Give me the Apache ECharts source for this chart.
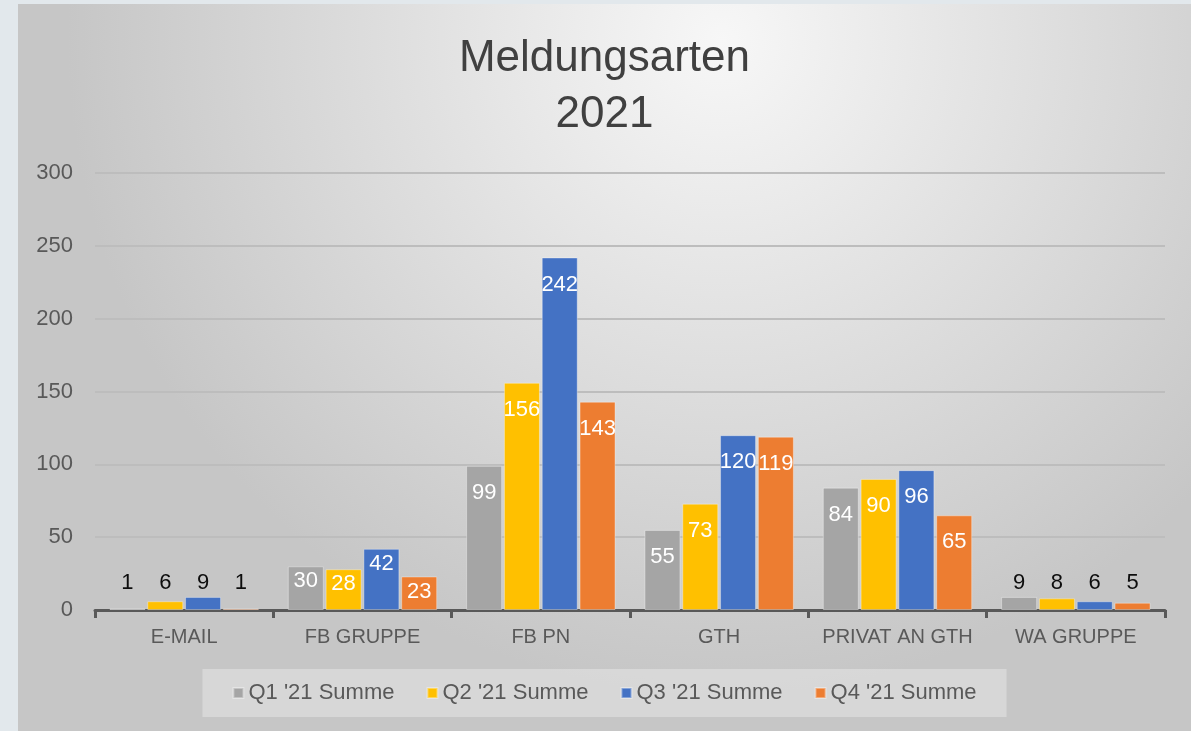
<!DOCTYPE html>
<html>
<head>
<meta charset="utf-8">
<script src="https://cdn.jsdelivr.net/npm/echarts@6/dist/echarts.min.js"></script>
<style>
  html, body { margin: 0; padding: 0; background: #e2e8ec; }
  #chart { position: absolute; left: 18px; top: 4px; width: 1173px; height: 727px; }
</style>
</head>
<body>
<div id="chart"></div>
<script>
// Kategorien und Werte pro Quartal
const categories = ['E-MAIL', 'FB GRUPPE', 'FB PN', 'GTH', 'PRIVAT AN GTH', 'WA GRUPPE']
const seriesNames = ["Q1 '21 Summe", "Q2 '21 Summe", "Q3 '21 Summe", "Q4 '21 Summe"]
const q1 = [1, 30, 99, 55, 84, 9]
const q2 = [6, 28, 156, 73, 90, 8]
const q3 = [9, 42, 242, 120, 96, 6]
const q4 = [1, 23, 143, 119, 65, 5]
const colors = ['#a5a5a5', '#ffc000', '#4472c4', '#ed7d31']
const yTicks = [0, 50, 100, 150, 200, 250, 300]

const font = "'Liberation Sans', Arial, sans-serif"

// kleine Balken: Beschriftung schwarz über dem Balken, sonst weiß innen oben
function toData(values) {
  return values.map(v => {
    if (v < 15) {
      return {
        value: v,
        label: { position: 'insideBottom', distance: 16, color: '#0d0d0d' }
      }
    }
    if (v < 50) {
      return { value: v, label: { distance: 4 } }
    }
    return v
  })
}

const allValues = [q1, q2, q3, q4]
const series = allValues.map((vals, i) => ({
  name: seriesNames[i],
  type: 'bar',
  barWidth: 36,
  barGap: '5%',
  data: toData(vals),
  itemStyle: { color: colors[i], borderColor: 'rgba(255,255,255,0.35)', borderWidth: 1 },
  label: {
    show: true,
    position: 'insideTop',
    distance: 16,
    color: '#ffffff',
    fontSize: 22,
    fontFamily: font
  }
}))

const chart = echarts.init(document.getElementById('chart'))
chart.setOption({
  animation: false,
  backgroundColor: {
    type: 'radial',
    x: 0.6, y: 0.05, r: 0.9,
    colorStops: [
      { offset: 0, color: '#f7f7f7' },
      { offset: 1, color: '#c6c6c6' }
    ]
  },
  title: {
    text: 'Meldungsarten\n2021',
    left: 'center',
    top: 27,
    padding: 0,
    textStyle: {
      fontSize: 44,
      fontWeight: 'normal',
      lineHeight: 56,
      color: '#404040',
      fontFamily: font
    }
  },
  legend: {
    bottom: 14,
    left: 'center',
    itemWidth: 10,
    itemHeight: 10,
    itemGap: 32,
    icon: 'rect',
    padding: [13, 30],
    backgroundColor: 'rgba(255,255,255,0.3)',
    textStyle: { fontSize: 22, color: '#595959', fontFamily: font },
    data: seriesNames
  },
  grid: { left: 77, right: 26, top: 169, bottom: 121 },
  xAxis: {
    type: 'category',
    data: categories,
    axisLine: { lineStyle: { color: '#595959', width: 3 } },
    axisTick: { show: true, interval: 0, alignWithLabel: false, length: 8, lineStyle: { color: '#595959', width: 3 } },
    axisLabel: { interval: 0, fontSize: 20, color: '#595959', margin: 17, fontFamily: font }
  },
  yAxis: {
    type: 'value',
    min: yTicks[0],
    max: yTicks[yTicks.length - 1],
    interval: 50,
    axisLine: { show: false },
    axisTick: { show: false },
    axisLabel: { fontSize: 22, color: '#595959', margin: 22, fontFamily: font },
    splitLine: { lineStyle: { color: '#bdbdbd', width: 2 } }
  },
  series: series
})
</script>
</body>
</html>
